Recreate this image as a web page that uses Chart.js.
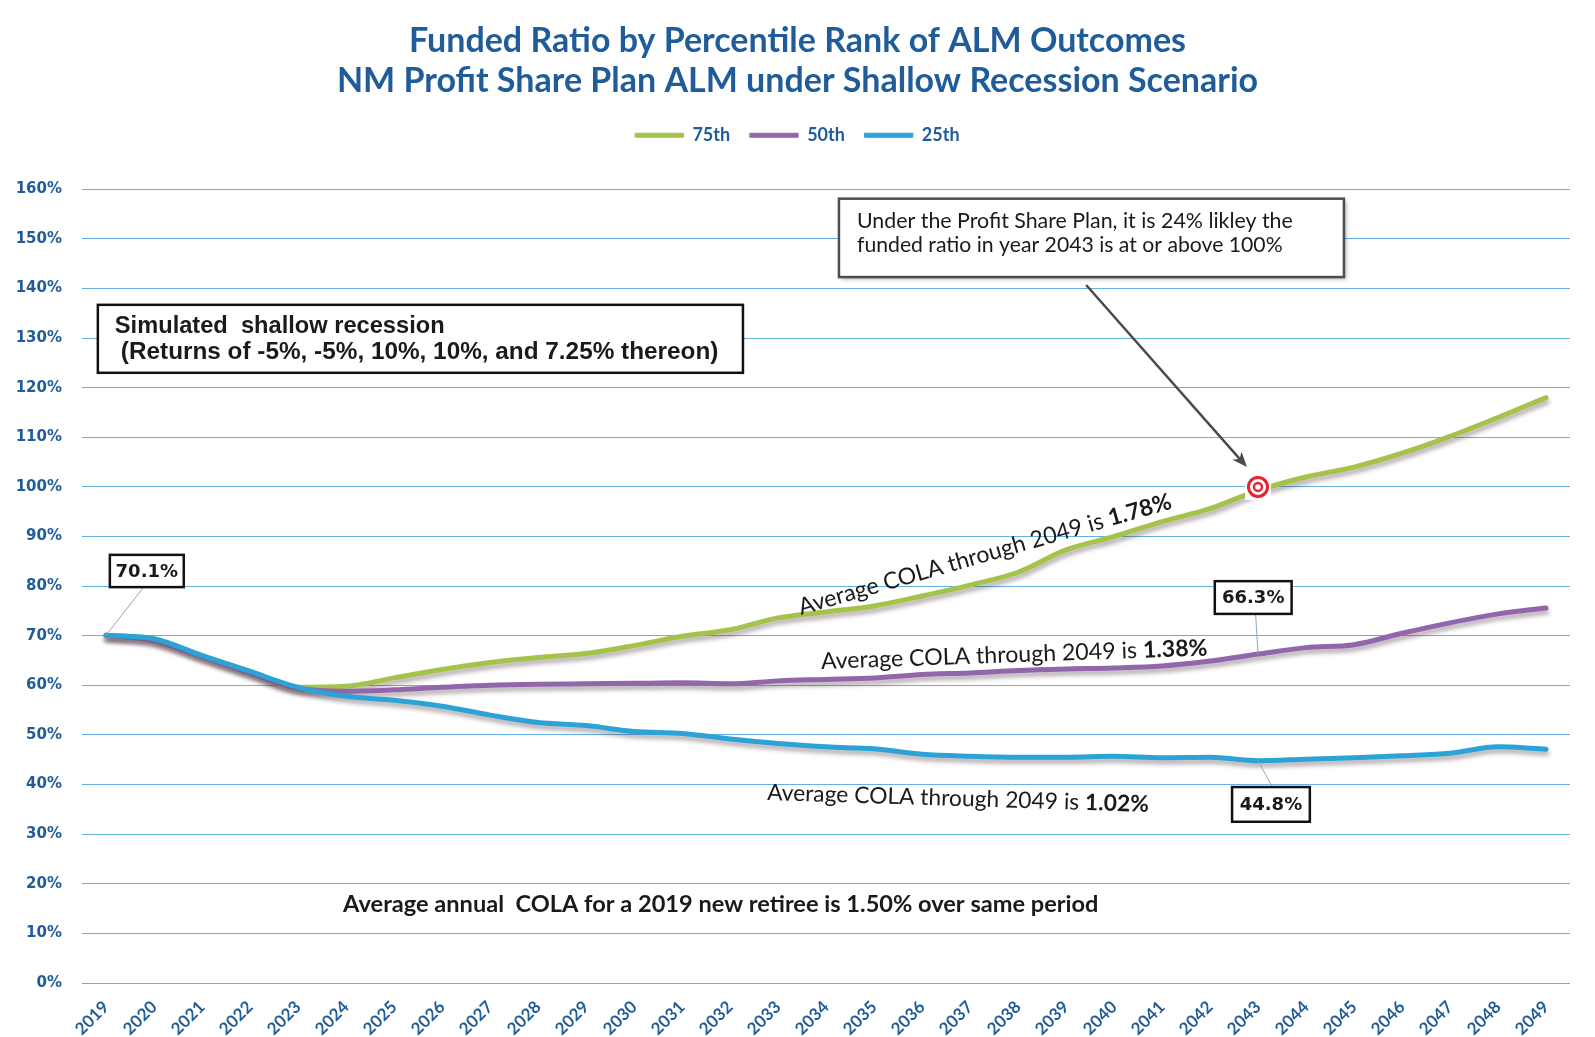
<!DOCTYPE html>
<html lang="en">
<head>
<meta charset="UTF-8">
<title>Funded Ratio by Percentile Rank of ALM Outcomes</title>
<script src="https://cdn.jsdelivr.net/npm/chart.js@4/dist/chart.umd.min.js"></script>
<style>
    body {
        margin: 0;
        background: #fff;
    }

    .wrap {
        width: 1595px;
        height: 1037px;
        position: relative;
    }
</style>
</head>
<body>
<div class="wrap"><canvas id="fundedChart"></canvas></div>

<script>
    // Data
    const years = ['2019', '2020', '2021', '2022', '2023', '2024', '2025', '2026', '2027', '2028',
        '2029', '2030', '2031', '2032', '2033', '2034', '2035', '2036', '2037', '2038',
        '2039', '2040', '2041', '2042', '2043', '2044', '2045', '2046', '2047', '2048', '2049'];

    const p75 = [70.1, 69.3, 66.0, 62.8, 59.6, 59.8, 61.5, 63.2, 64.6, 65.6,
        66.4, 68.0, 69.9, 71.2, 73.6, 74.8, 76.0, 78.0, 80.2, 82.8,
        87.3, 90.0, 93.0, 95.6, 99.3, 102.0, 104.0, 106.8, 110.2, 114.0, 118.0];

    const p50 = [70.1, 69.0, 65.8, 62.5, 59.4, 58.8, 59.1, 59.6, 60.0, 60.2,
        60.3, 60.4, 60.5, 60.3, 60.9, 61.2, 61.5, 62.2, 62.5, 63.0,
        63.3, 63.5, 63.9, 64.9, 66.3, 67.6, 68.2, 70.5, 72.6, 74.4, 75.6];

    const p25 = [70.1, 69.4, 66.0, 62.8, 59.6, 57.8, 57.0, 55.8, 54.0, 52.5,
        51.9, 50.7, 50.3, 49.2, 48.3, 47.6, 47.2, 46.1, 45.7, 45.5,
        45.5, 45.7, 45.4, 45.5, 44.8, 45.1, 45.4, 45.8, 46.3, 47.6, 47.1];

    const yTicks = [0, 10, 20, 30, 40, 50, 60, 70, 80, 90, 100, 110, 120, 130, 140, 150, 160];

    const blueText = '#1F5C99';
    const gridBlue = '#62B2E3';

    // soft drop shadow under the lines, like the office chart
    const lineShadow = {
        id: 'lineShadow',
        beforeDatasetDraw(chart) {
            const c = chart.ctx;
            c.save();
            c.shadowColor = 'rgba(90, 70, 80, 0.45)';
            c.shadowBlur = 4;
            c.shadowOffsetX = 1;
            c.shadowOffsetY = 4;
        },
        afterDatasetDraw(chart) {
            chart.ctx.restore();
        }
    };

    // draw text made of normal/bold pieces, scaled to a target width
    function richText(ctx, parts, x, y, angle, family, width) {
        let size = 20;
        const measure = (s) => parts.reduce((w, p) => {
            ctx.font = (p.b ? 'bold ' : '') + s + 'px ' + family;
            return w + ctx.measureText(p.t).width;
        }, 0);
        size = size * width / measure(size);
        ctx.save();
        ctx.translate(x, y);
        ctx.rotate(angle * Math.PI / 180);
        ctx.fillStyle = '#1a1a1a';
        ctx.textAlign = 'left';
        ctx.textBaseline = 'alphabetic';
        let cx = 0;
        parts.forEach(p => {
            ctx.font = (p.b ? 'bold ' : '') + size + 'px ' + family;
            ctx.fillText(p.t, cx, 0);
            cx += ctx.measureText(p.t).width;
        });
        ctx.restore();
    }

    function frame(ctx, a, b, lw, color, shadow) {
        ctx.save();
        if (shadow) {
            ctx.shadowColor = 'rgba(0,0,0,0.35)';
            ctx.shadowBlur = 4;
            ctx.shadowOffsetX = 2;
            ctx.shadowOffsetY = 2;
        }
        ctx.fillStyle = '#fff';
        ctx.fillRect(a.x, a.y, b.x - a.x, b.y - a.y);
        ctx.restore();
        ctx.save();
        ctx.strokeStyle = color;
        ctx.lineWidth = lw;
        ctx.strokeRect(a.x, a.y, b.x - a.x, b.y - a.y);
        ctx.restore();
    }

    function leader(ctx, a, b) {
        ctx.save();
        ctx.strokeStyle = '#8fa9c2';
        ctx.lineWidth = 1;
        ctx.beginPath();
        ctx.moveTo(a.x, a.y);
        ctx.lineTo(b.x, b.y);
        ctx.stroke();
        ctx.restore();
    }

    // annotations placed in (category index, percent) space
    const annotations = {
        id: 'annotations',
        afterDraw(chart) {
            const ctx = chart.ctx;
            const xs = chart.scales.x, ys = chart.scales.y;
            const P = (i, v) => ({ x: xs.getPixelForValue(i), y: ys.getPixelForValue(v) });
            const at = (arr, year) => P(years.indexOf(year), arr[years.indexOf(year)]);

            // value call-outs
            const callouts = [
                { text: '70.1%', a: P(0.08, 86.3), b: P(1.62, 79.8), from: P(0.77, 79.6), to: at(p25, '2019') },
                { text: '66.3%', a: P(23.1, 81.0), b: P(24.7, 74.4), from: P(23.95, 74.4), to: at(p50, '2043') },
                { text: '44.8%', a: P(23.46, 39.5), b: P(25.08, 32.5), from: P(24.3, 39.5), to: at(p25, '2043') }
            ];
            callouts.forEach(c => {
                leader(ctx, c.from, c.to);
                frame(ctx, c.a, c.b, 2.5, '#111', false);
                ctx.save();
                ctx.font = 'bold 18px "DejaVu Sans"';
                ctx.fillStyle = '#1a1a1a';
                ctx.textAlign = 'center';
                ctx.textBaseline = 'middle';
                ctx.fillText(c.text, (c.a.x + c.b.x) / 2, (c.a.y + c.b.y) / 2 + 1);
                ctx.restore();
            });

            // recession box
            const ra = P(-0.17, 136.7), rb = P(13.27, 123.0);
            frame(ctx, ra, rb, 2.5, '#111', false);
            richText(ctx, [{ t: 'Simulated  shallow recession', b: true }],
                ra.x + 17, ra.y + 28, 0, '"Liberation Sans"', 330);
            richText(ctx, [{ t: '(Returns of -5%, -5%, 10%, 10%, and 7.25% thereon)', b: true }],
                ra.x + 23, ra.y + 54, 0, '"Liberation Sans"', 598);

            // profit share note with arrow to target
            const na = P(15.27, 158.1), nb = P(25.79, 142.3);
            frame(ctx, na, nb, 2.5, '#4d4d4d', true);
            richText(ctx, [{ t: 'Under the Profit Share Plan, it is 24% likley the' }],
                na.x + 18, na.y + 29, 0, 'Lato', 436);
            richText(ctx, [{ t: 'funded ratio in year 2043 is at or above 100%' }],
                na.x + 18, na.y + 53, 0, 'Lato', 426);

            const s = P(20.42, 140.7), e = P(23.77, 104.0);
            const ang = Math.atan2(e.y - s.y, e.x - s.x);
            ctx.save();
            ctx.strokeStyle = '#4a4a4a';
            ctx.fillStyle = '#4a4a4a';
            ctx.lineWidth = 2.5;
            ctx.beginPath();
            ctx.moveTo(s.x, s.y);
            ctx.lineTo(e.x - 10 * Math.cos(ang), e.y - 10 * Math.sin(ang));
            ctx.stroke();
            ctx.translate(e.x, e.y);
            ctx.rotate(ang);
            ctx.beginPath();
            ctx.moveTo(0, 0);
            ctx.lineTo(-15, -6);
            ctx.lineTo(-11, 0);
            ctx.lineTo(-15, 6);
            ctx.closePath();
            ctx.fill();
            ctx.restore();

            // red target on the 75th line at 100%
            const t = P(years.indexOf('2043'), 100);
            ctx.save();
            ctx.fillStyle = '#fff';
            ctx.fillRect(t.x - 13, t.y - 13, 26, 26);
            ctx.strokeStyle = '#e3262c';
            ctx.lineWidth = 3;
            ctx.beginPath();
            ctx.arc(t.x, t.y, 9.5, 0, Math.PI * 2);
            ctx.stroke();
            ctx.lineWidth = 2.5;
            ctx.beginPath();
            ctx.arc(t.x, t.y, 4, 0, Math.PI * 2);
            ctx.stroke();
            ctx.restore();

            // COLA notes
            const g = P(14.48, 74.2);
            richText(ctx, [{ t: 'Average COLA through 2049 is ' }, { t: '1.78%', b: true }],
                g.x, g.y, -16, 'Lato', 387);
            const m = P(14.9, 63.3);
            richText(ctx, [{ t: 'Average COLA through 2049 is ' }, { t: '1.38%', b: true }],
                m.x, m.y, -2, 'Lato', 387);
            const l = P(13.77, 36.9);
            richText(ctx, [{ t: 'Average COLA through 2049 is ' }, { t: '1.02%', b: true }],
                l.x, l.y, 1.8, 'Lato', 382);
            const n = P(4.94, 14.3);
            richText(ctx, [{ t: 'Average annual  COLA for a 2019 new retiree is ', b: true }, { t: '1.50%', b: true },
                { t: ' over same period', b: true }], n.x, n.y, 0, 'Lato', 756);
        }
    };

    const ctx = document.getElementById('fundedChart').getContext('2d');
    const chart = new Chart(ctx, {
        type: 'line',
        data: {
            labels: years,
            datasets: [
                { label: '75th', data: p75, borderColor: '#A5C34A', backgroundColor: '#A5C34A', order: 3 },
                { label: '50th', data: p50, borderColor: '#9166AB', backgroundColor: '#9166AB', order: 2 },
                { label: '25th', data: p25, borderColor: '#2CA3D6', backgroundColor: '#2CA3D6', order: 1 }
            ]
        },
        options: {
            responsive: true,
            maintainAspectRatio: false,
            animation: false,
            layout: { padding: 0 },
            elements: {
                line: { borderWidth: 5, cubicInterpolationMode: 'monotone', borderCapStyle: 'round' },
                point: { radius: 0 }
            },
            plugins: {
                title: {
                    display: true,
                    text: ['Funded Ratio by Percentile Rank of ALM Outcomes',
                        'NM Profit Share Plan ALM under Shallow Recession Scenario'],
                    color: blueText,
                    font: { family: 'Lato', size: 34, weight: 'bold', lineHeight: 1.18 },
                    padding: { top: 21, bottom: 5 }
                },
                legend: {
                    display: true,
                    weight: 1600,
                    labels: {
                        color: blueText,
                        font: { family: 'Lato', size: 18, weight: 'bold' },
                        boxWidth: 48,
                        boxHeight: 4,
                        padding: 20,
                        sort: (a, b) => a.datasetIndex - b.datasetIndex,
                        generateLabels(c) {
                            return Chart.defaults.plugins.legend.labels.generateLabels(c)
                                .map(item => ({ ...item, strokeStyle: item.fillStyle, lineWidth: 1 }));
                        }
                    }
                },
                // empty spacer between the legend and the plot
                subtitle: {
                    display: true,
                    text: ' ',
                    font: { size: 15, lineHeight: 1 },
                    padding: { top: 10, bottom: 10 }
                },
                tooltip: { enabled: false }
            },
            scales: {
                x: {
                    offset: true,
                    grid: { display: false },
                    border: { display: false },
                    ticks: {
                        color: blueText,
                        font: { family: 'Lato', size: 17, weight: 'bold' },
                        minRotation: 45,
                        maxRotation: 45,
                        autoSkip: false,
                        padding: 6
                    },
                    afterFit(axis) { axis.height = 54; }
                },
                y: {
                    min: 0,
                    max: 160,
                    afterBuildTicks(axis) { axis.ticks = yTicks.map(v => ({ value: v })); },
                    grid: { color: gridBlue, lineWidth: 1, drawTicks: false },
                    border: { display: false },
                    ticks: {
                        color: blueText,
                        font: { family: 'DejaVu Sans', size: 15, weight: 'bold' },
                        padding: 20,
                        callback: v => v + '%'
                    },
                    afterFit(axis) { axis.width = 82; }
                },
                // blank right-hand strip so the plot stops short of the edge
                yRight: {
                    type: 'linear',
                    position: 'right',
                    grid: { display: false },
                    border: { display: false },
                    ticks: { display: false },
                    afterFit(axis) { axis.width = 25; }
                }
            }
        },
        plugins: [lineShadow, annotations]
    });
</script>
</body>
</html>
